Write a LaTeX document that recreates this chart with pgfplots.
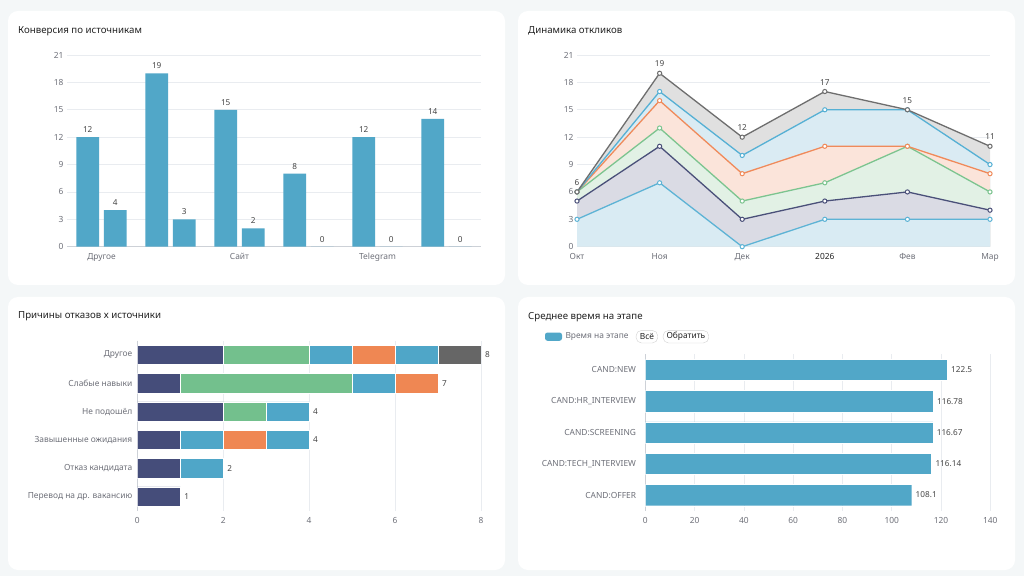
\documentclass[border=0pt]{standalone}
\usepackage{fontspec}
\setmainfont{Noto Sans}
\usepackage{pgfplots}
\usepackage{pgfplotstable}
\pgfplotsset{compat=1.18}

\definecolor{pagebg}{HTML}{F4F7F8}
\definecolor{titlec}{HTML}{222222}
\definecolor{tickc}{HTML}{6E7079}
\definecolor{gridc}{HTML}{E9ECF0}
\definecolor{axisc}{HTML}{CDD1D7}
\definecolor{labelc}{HTML}{464646}
\definecolor{barblue}{HTML}{51A7C8}
\definecolor{cnavy}{HTML}{454D7A}
\definecolor{cgreen}{HTML}{73C08D}
\definecolor{cblue}{HTML}{4FA6C8}
\definecolor{corange}{HTML}{EF8753}
\definecolor{cgray}{HTML}{666666}
% line colours and their pale area tints
\definecolor{lgray}{HTML}{6E6E6E}
\definecolor{lblue}{HTML}{56B0D4}
\definecolor{lorange}{HTML}{F08A5A}
\definecolor{lgreen}{HTML}{7CC48F}
\definecolor{lnavy}{HTML}{4A5079}
\definecolor{llight}{HTML}{5DB3D5}
\definecolor{agray}{HTML}{E0E0E0}
\definecolor{ablue}{HTML}{DAEBF3}
\definecolor{aorange}{HTML}{FBE4DA}
\definecolor{agreen}{HTML}{E2F1E5}
\definecolor{anavy}{HTML}{DADBE4}
\definecolor{alight}{HTML}{D9EBF3}

\newcommand{\ticksize}{\fontsize{8.4}{10}\selectfont}
\newcommand{\valsize}{\fontsize{8.2}{10}\selectfont}
\newcommand{\titlesize}{\fontsize{9.7}{12}\selectfont\bfseries}

% cumulative levels of the response series per month
\pgfplotstableread{
m s1 s2 s3 s4 s5 s6
0 3 5  6  6  6  6
1 7 11 13 16 17 19
2 0 3  5  8  10 12
3 3 5  7  11 15 17
4 3 6  11 11 15 15
5 3 4  6  8  9  11
}\responses

\pgfplotsset{
  /pgf/number format/assume math mode=true,
  card/.style={
    scale only axis,
    anchor=south west,
    tick label style={font=\ticksize, text=tickc},
    grid style={draw=gridc, line width=0.6pt},
    nodes near coords style={font=\valsize, text=labelc},
  },
  lineser/.style={line width=1.3pt, mark=*, mark size=2.1pt,
    mark options={fill=white, line width=1pt}},
}

\begin{document}
\begin{tikzpicture}[x=1pt,y=1pt]
\useasboundingbox (0,0) rectangle (1024,576);
\fill[pagebg] (0,0) rectangle (1024,576);
% cards
\fill[white, rounded corners=10pt] (8,291) rectangle (505,565);
\fill[white, rounded corners=10pt] (518,291) rectangle (1015,565);
\fill[white, rounded corners=10pt] (8,6) rectangle (505,279);
\fill[white, rounded corners=10pt] (518,6) rectangle (1015,279);
% titles
\node[anchor=west, inner sep=0, text=titlec, font=\titlesize] at (18,545) {Конверсия по источникам};
\node[anchor=west, inner sep=0, text=titlec, font=\titlesize] at (528,545) {Динамика откликов};
\node[anchor=west, inner sep=0, text=titlec, font=\titlesize] at (18,259.3) {Причины отказов х источники};
\node[anchor=west, inner sep=0, text=titlec, font=\titlesize] at (528,259.3) {Среднее время на этапе};

% --- conversion by source
\begin{axis}[card,
  at={(67pt,329.3pt)}, width=414pt, height=191.7pt,
  xmin=0, xmax=6, ymin=0, ymax=21,
  ytick={0,3,...,21},
  xtick={0.5,2.5,4.5}, xticklabels={Другое,Сайт,Telegram},
  major x tick style={draw=none},
  extra x ticks={0,2,4,6}, extra x tick labels={},
  extra x tick style={major tick length=4pt, tick style={draw=axisc}, xtick align=outside},
  ymajorgrids,
  axis x line*=bottom, axis y line*=left,
  x axis line style={draw=axisc},
  y axis line style={draw=none},
  major y tick style={draw=none},
  xticklabel style={yshift=-3pt},
]
\addplot[ybar, bar width=22.7pt, bar shift=-13.8pt, fill=barblue, draw=none,
  nodes near coords, nodes near coords style={xshift=-13.8pt, yshift=1pt}]
  coordinates {(0.5,12) (1.5,19) (2.5,15) (3.5,8) (4.5,12) (5.5,14)};
\addplot[ybar, bar width=22.7pt, bar shift=13.8pt, fill=barblue, draw=none,
  nodes near coords, nodes near coords style={xshift=13.8pt, yshift=1pt}]
  coordinates {(0.5,4) (1.5,3) (2.5,2) (3.5,0) (4.5,0) (5.5,0)};
\end{axis}

% --- responses over time: pale bands, then the lines
\begin{axis}[card,
  at={(577pt,329.3pt)}, width=413pt, height=191.7pt,
  xmin=0, xmax=5, ymin=0, ymax=21,
  ytick={0,3,...,21},
  xtick={0,...,5}, xticklabels={Окт,Ноя,Дек,\textbf{\textcolor{titlec}{2026}},Фев,Мар},
  major x tick style={draw=none},
  ymajorgrids,
  axis x line*=bottom, axis y line*=left,
  x axis line style={draw=axisc},
  y axis line style={draw=none},
  major y tick style={draw=none},
  xticklabel style={yshift=-3pt},
]
\addplot[fill=agray, draw=none, mark=none] table[x=m, y=s6] {\responses} \closedcycle;
\addplot[fill=ablue, draw=none, mark=none] table[x=m, y=s5] {\responses} \closedcycle;
\addplot[fill=aorange, draw=none, mark=none] table[x=m, y=s4] {\responses} \closedcycle;
\addplot[fill=agreen, draw=none, mark=none] table[x=m, y=s3] {\responses} \closedcycle;
\addplot[fill=anavy, draw=none, mark=none] table[x=m, y=s2] {\responses} \closedcycle;
\addplot[fill=alight, draw=none, mark=none] table[x=m, y=s1] {\responses} \closedcycle;
\addplot[lineser, llight] table[x=m, y=s1] {\responses};
\addplot[lineser, lnavy] table[x=m, y=s2] {\responses};
\addplot[lineser, lgreen] table[x=m, y=s3] {\responses};
\addplot[lineser, lorange] table[x=m, y=s4] {\responses};
\addplot[lineser, lblue] table[x=m, y=s5] {\responses};
\addplot[lineser, lgray, nodes near coords,
  nodes near coords style={anchor=south, yshift=2.5pt}]
  table[x=m, y=s6] {\responses};
\end{axis}

% --- rejection reasons by source
\begin{axis}[card,
  at={(137.3pt,65.3pt)}, width=343.7pt, height=170pt,
  xbar stacked, bar width=19.3pt,
  xmin=0, xmax=8, xtick={0,2,...,8},
  ymin=-0.5, ymax=5.5, y dir=reverse,
  ytick={0,...,5},
  yticklabels={Другое,Слабые навыки,Не подошёл,Завышенные ожидания,Отказ кандидата,Перевод на др. вакансию},
  major y tick style={draw=none},
  extra y ticks={-0.5,0.5,...,5.5}, extra y tick labels={},
  extra y tick style={major tick length=4pt, tick style={draw=axisc}, ytick align=outside},
  xmajorgrids,
  axis x line*=bottom, axis y line*=left,
  x axis line style={draw=none},
  y axis line style={draw=axisc},
  major x tick style={draw=none},
  xticklabel style={yshift=-3pt},
  yticklabel style={xshift=-1.5pt},
  every axis plot/.append style={draw=white, line width=0.4pt},
]
\addplot[fill=cnavy] coordinates {(2,0) (1,1) (2,2) (1,3) (1,4) (1,5)};
\addplot[fill=cgreen] coordinates {(2,0) (4,1) (1,2) (0,3) (0,4) (0,5)};
\addplot[fill=cblue] coordinates {(1,0) (1,1) (1,2) (1,3) (1,4) (0,5)};
\addplot[fill=corange] coordinates {(1,0) (1,1) (0,2) (1,3) (0,4) (0,5)};
\addplot[fill=cblue] coordinates {(1,0) (0,1) (0,2) (1,3) (0,4) (0,5)};
\addplot[fill=cgray] coordinates {(1,0) (0,1) (0,2) (0,3) (0,4) (0,5)};
\end{axis}
% stack totals, on the same frame
\begin{axis}[card, hide axis,
  at={(137.3pt,65.3pt)}, width=343.7pt, height=170pt,
  xbar, bar width=19.3pt,
  xmin=0, xmax=8, ymin=-0.5, ymax=5.5, y dir=reverse,
]
\addplot[draw=none, fill=none, nodes near coords,
  nodes near coords style={anchor=west, xshift=0.5pt}]
  coordinates {(8,0) (7,1) (4,2) (4,3) (2,4) (1,5)};
\end{axis}

% --- average time per stage
\fill[barblue, rounded corners=2.5pt] (545,235.2) rectangle (562,243.5);
\node[anchor=west, inner sep=0, text=tickc, font=\ticksize] at (565.3,239.3) {Время на этапе};
\node[draw=gray!35, rounded corners=5.5pt, minimum height=12.6pt, minimum width=21.7pt,
  inner xsep=2pt, inner ysep=0pt, text=titlec, font=\ticksize] at (646.9,239.3) {Всё};
\node[draw=gray!35, rounded corners=5.5pt, minimum height=12.6pt, minimum width=45.7pt,
  inner xsep=2pt, inner ysep=0pt, text=titlec, font=\ticksize] at (685.9,239.3) {Обратить};

\begin{axis}[card,
  at={(645.3pt,65.3pt)}, width=345pt, height=156.4pt,
  xbar, bar width=21.3pt,
  xmin=0, xmax=140, xtick={0,20,...,140},
  ymin=-0.5, ymax=4.5, y dir=reverse,
  ytick={0,...,4},
  yticklabels={CAND:NEW,CAND:HR\_INTERVIEW,CAND:SCREENING,CAND:TECH\_INTERVIEW,CAND:OFFER},
  major y tick style={draw=none},
  extra y ticks={-0.5,4.5}, extra y tick labels={},
  extra y tick style={major tick length=4pt, tick style={draw=axisc}, ytick align=outside},
  xmajorgrids,
  axis x line*=bottom, axis y line*=left,
  x axis line style={draw=none},
  y axis line style={draw=axisc},
  major x tick style={draw=none},
  xticklabel style={yshift=-3pt},
  yticklabel style={xshift=-1.5pt},
]
\addplot[fill=barblue, draw=white, line width=0.4pt, nodes near coords,
  nodes near coords style={anchor=west, xshift=0.5pt}]
  coordinates {(122.5,0) (116.78,1) (116.67,2) (116.14,3) (108.1,4)};
\end{axis}
\end{tikzpicture}
\end{document}
